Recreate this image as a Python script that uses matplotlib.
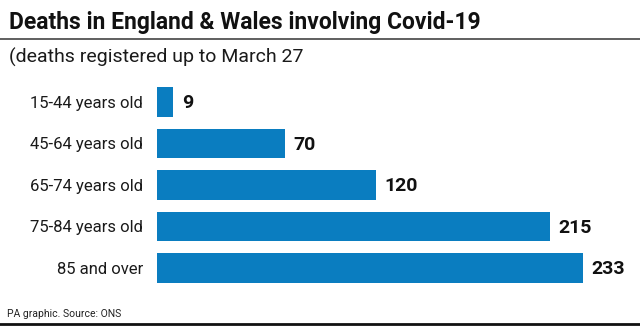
import matplotlib
matplotlib.use("Agg")
import matplotlib.pyplot as plt
from matplotlib.lines import Line2D

plt.rcParams["font.family"] = ["Roboto", "DejaVu Sans"]

#%% data
groups = ["15-44 years old", "45-64 years old", "65-74 years old",
          "75-84 years old", "85 and over"]
deaths = [9, 70, 120, 215, 233]

title = "Deaths in England & Wales involving Covid-19"
subtitle = "(deaths registered up to March 27"
source = "PA graphic. Source: ONS"

blue = "#0a7dc0"

#%% plot
fig = plt.figure(figsize=(6.4, 3.32), dpi=100)
ax = fig.add_axes([157 / 640, 0.1303, 483 / 640, 0.625])

ypos = list(range(len(groups)))
ax.barh(ypos, deaths, height=0.72, color=blue)
ax.set_xlim(0, 483 / 1.828)
ax.set_ylim(len(groups) - 0.5, -0.5)

for y, v in zip(ypos, deaths):
    ax.annotate(str(v), (v, y), xytext=(6, -1), textcoords="offset points",
                va="center", ha="left", fontsize=14, fontweight="bold",
                color="#111111")

ax.set_yticks(ypos)
ax.set_yticklabels(groups, fontsize=12, color="#1a1a1a")
ax.tick_params(axis="y", length=0, pad=10)
ax.set_xticks([])
for s in ax.spines.values():
    s.set_visible(False)

fig.text(9 / 640, 1 - 22 / 332, title, fontsize=16.5, fontweight="bold",
         va="center", ha="left", color="#111111")
fig.add_artist(Line2D([0, 1], [1 - 38.5 / 332] * 2, color="#444444", lw=1.2))
fig.text(9 / 640, 1 - 57 / 332, subtitle, fontsize=14, va="center",
         ha="left", color="#1a1a1a")
fig.text(7 / 640, 1 - 314 / 332, source, fontsize=7.5, va="center",
         ha="left", color="#222222")
fig.add_artist(Line2D([0, 1], [1 - 324 / 332] * 2, color="#111111", lw=2))

fig.savefig("out.png", dpi=100)
